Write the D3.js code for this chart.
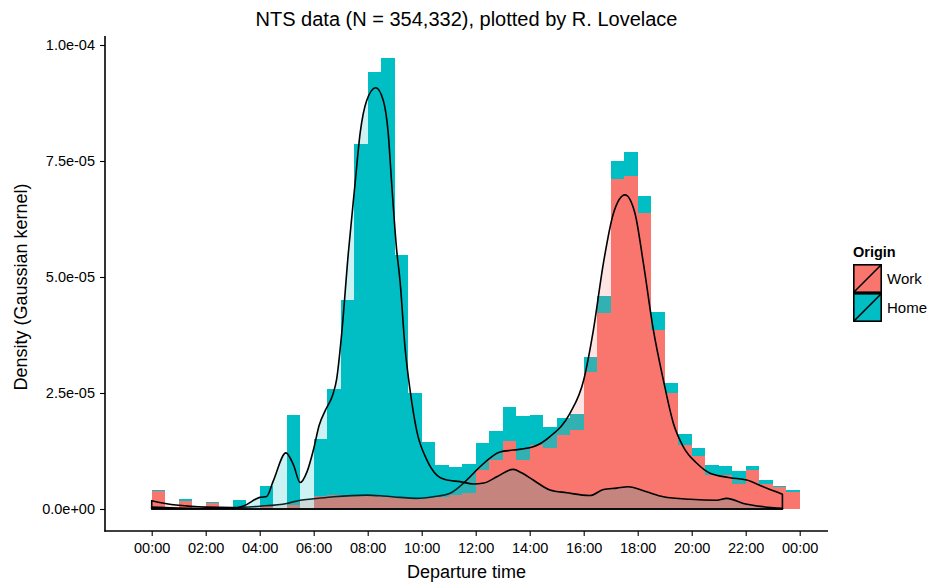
<!DOCTYPE html>
<html>
<head>
<meta charset="utf-8">
<script src="https://cdn.jsdelivr.net/npm/d3@7"></script>
<style>
  html, body { margin: 0; padding: 0; background: #fff; }
  svg { display: block; font-family: "Liberation Sans", Arial, sans-serif; }
</style>
</head>
<body>
<svg id="chart" width="930" height="583"></svg>
<script>
// ---------------- data (values in units of 1e-6) ----------------
const binStarts = d3.range(0, 24, 0.5); // 30-minute bins, hours
const workHist = [3.9,0,1.8,0,1.2,0,0.5,0,0.8,0,0.8,0,
                  2.9,3.0,3.0,3.0,2.8,2.6,2.3,2.1,2.3,2.5,3.0,3.5,
                  8.5,10.6,14.6,10.6,13.8,13.1,16.0,17.0,29.6,42.2,71.1,71.8,
                  63.9,38.6,24.9,13.8,11.5,7.3,7.3,5.3,8.4,5.4,4.7,3.7];
const homeHist = [0.3,0,0.3,0,0.4,0,1.5,0,4.2,0,19.4,0,
                  12.1,22.8,42.0,75.6,91.4,94.6,52.5,22.8,12.2,7.0,6.0,6.2,
                  5.7,6.3,7.3,9.5,6.5,4.5,3.7,3.5,3.1,3.8,3.8,5.1,
                  3.6,3.8,2.2,2.3,1.7,2.2,2.0,2.9,0.9,0.85,0.3,0.4];

const homeDensX = [0,0.5,1,2,3,3.4,4.0,4.26,4.5,4.97,5.25,5.5,5.75,6.0,6.2,6.45,6.7,6.85,7.04,7.28,7.53,7.72,7.96,8.3,8.58,8.76,8.89,9.07,9.2,9.38,9.57,9.81,10.19,10.56,10.93,11.42,11.91,12.3,12.8,13.39,13.7,14.13,14.75,15.37,16.23,16.73,17.22,17.65,18.33,18.95,19.94,20.93,21.3,21.91,22.65,23.36];
const homeDensY = [0.4,0.3,0.2,0.1,0.15,0.65,2.5,2.7,6,12.1,9.5,5.7,8,13,18,21.5,24.5,28,38,55,70,81,88,90.8,88,81,70,56,49,35,25.6,17,10.6,7.3,6.25,5.9,5.4,5.6,7.0,8.55,7.8,6.25,4.1,3.5,2.9,4.2,4.5,4.8,3.7,2.65,2.1,1.9,2.3,1.2,0.5,0.15];

const workDensX = [0,0.5,1,2,3,4,5,5.5,6,6.74,7.97,8.6,9.2,9.8,10.43,11.05,11.67,12.16,12.9,13.39,14.13,14.75,15.49,16.0,16.36,16.73,17.1,17.53,17.9,18.21,18.58,18.95,19.32,19.69,20.19,20.68,21.42,22.04,22.65,23.36];
const workDensY = [1.8,1.2,0.8,0.4,0.3,0.6,1.2,1.9,2.2,2.65,3.0,2.8,2.5,2.3,2.65,3.4,6.25,9.1,12.3,12.7,13.4,15.6,20.6,27.8,38.6,53,63.7,67.7,63.7,53,38.6,27.8,18.5,13.4,9.85,7.7,6.75,6.25,4.8,3.2];

const groups = ["Work", "Home"];
const colors = ["#F8766D", "#00BFC4"];
const xTickHours = d3.range(0, 25, 2);
const yTicks = [0, 2.5e-5, 5e-5, 7.5e-5, 1e-4];

const titleText = "NTS data (N = 354,332), plotted by R. Lovelace";
const xTitle = "Departure time";
const yTitle = "Density (Gaussian kernel)";
const legendTitle = "Origin";

// ---------------- scales ----------------
const svg = d3.select("#chart");
const x = d3.scaleLinear().domain([0, 24]).range([151.7, 799.7]);
const y = d3.scaleLinear().domain([0, 1e-4]).range([509, 45]);
const E = 1e-6;
const color = d3.scaleOrdinal().domain(groups).range(colors);

// ---------------- stacked histogram ----------------
const rows = binStarts.map((h, i) => ({h, Work: workHist[i] * E, Home: homeHist[i] * E}));
const stacked = d3.stack().keys(groups)(rows);
const gBars = svg.append("g");
stacked.forEach(layer => {
  gBars.selectAll(null).data(layer).enter().append("rect")
    .attr("x", d => x(d.data.h))
    .attr("width", d => x(d.data.h + 0.5) - x(d.data.h))
    .attr("y", d => y(d[1]))
    .attr("height", d => Math.max(0, y(d[0]) - y(d[1])))
    .attr("fill", color(layer.key))
    .attr("shape-rendering", "crispEdges");
});

// ---------------- densities ----------------
const dens = [
  {key: "Work", xs: workDensX, ys: workDensY},
  {key: "Home", xs: homeDensX, ys: homeDensY}
];
const area = d3.area().x(d => x(d[0])).y0(y(0)).y1(d => y(d[1] * E)).curve(d3.curveMonotoneX);
dens.forEach(dd => {
  const pts = dd.xs.map((v, i) => [v, dd.ys[i]]);
  svg.append("path")
    .attr("d", area(pts) + "Z")
    .attr("fill", color(dd.key))
    .attr("fill-opacity", 0.2)
    .attr("stroke", "#000")
    .attr("stroke-width", 1.6)
    .attr("stroke-linejoin", "round");
});

// ---------------- axes ----------------
const fmtTime = h => d3.format("02d")(h % 24) + ":00";
const xAxis = d3.axisBottom(x).tickValues(xTickHours).tickFormat(fmtTime).tickSize(5).tickPadding(7).tickSizeOuter(0);
const gx = svg.append("g").attr("transform", "translate(0,531)").call(xAxis);
gx.select(".domain").remove();
gx.append("line").attr("x1", 104.5).attr("x2", 828).attr("y1", 0).attr("y2", 0).attr("stroke", "#000").attr("stroke-width", 1.6);
gx.selectAll(".tick line").attr("stroke", "#000").attr("stroke-width", 1.1);
gx.selectAll(".tick text").attr("fill", "#000").attr("font-size", 14.5).attr("font-family", "Liberation Sans, Arial, sans-serif");

const yAxis = d3.axisLeft(y).tickValues(yTicks).tickFormat(d => d3.format(".1e")(d).replace(/e([+-])(\d)$/, "e$10$2")).tickSize(5).tickPadding(5).tickSizeOuter(0);
const gy = svg.append("g").attr("transform", "translate(105,0)").call(yAxis);
gy.select(".domain").remove();
gy.append("line").attr("x1", 0).attr("x2", 0).attr("y1", 36).attr("y2", 531.8).attr("stroke", "#000").attr("stroke-width", 1.6);
gy.selectAll(".tick line").attr("stroke", "#000").attr("stroke-width", 1.1);
gy.selectAll(".tick text").attr("fill", "#000").attr("font-size", 14.5).attr("font-family", "Liberation Sans, Arial, sans-serif");

// ---------------- titles ----------------
svg.append("text").attr("x", 466.5).attr("y", 26).attr("text-anchor", "middle")
  .attr("font-size", 20).attr("fill", "#000").text(titleText);
svg.append("text").attr("x", 466.5).attr("y", 578).attr("text-anchor", "middle")
  .attr("font-size", 18).attr("fill", "#000").text(xTitle);
svg.append("text").attr("transform", "translate(27,287) rotate(-90)").attr("text-anchor", "middle")
  .attr("font-size", 18).attr("fill", "#000").text(yTitle);

// ---------------- legend ----------------
const lg = svg.append("g").attr("transform", "translate(853,0)");
lg.append("text").attr("x", 0).attr("y", 257).attr("font-size", 14.5).attr("font-weight", "bold").attr("fill", "#000").text(legendTitle);
groups.forEach((g, i) => {
  const top = 264 + i * 29;
  const k = lg.append("g");
  k.append("rect").attr("x", 0).attr("y", top).attr("width", 29).attr("height", 29).attr("fill", color(g));
  k.append("rect").attr("x", 0.8).attr("y", top + 0.8).attr("width", 27.4).attr("height", 27.4)
    .attr("fill", color(g)).attr("fill-opacity", 0.2).attr("stroke", "#000").attr("stroke-width", 1.6);
  k.append("line").attr("x1", 1).attr("y1", top + 28).attr("x2", 28).attr("y2", top + 1).attr("stroke", "#000").attr("stroke-width", 1.6);
  lg.append("text").attr("x", 34).attr("y", top + 14.5).attr("dy", "0.35em").attr("font-size", 15).attr("fill", "#000").text(g);
});
</script>
</body>
</html>
